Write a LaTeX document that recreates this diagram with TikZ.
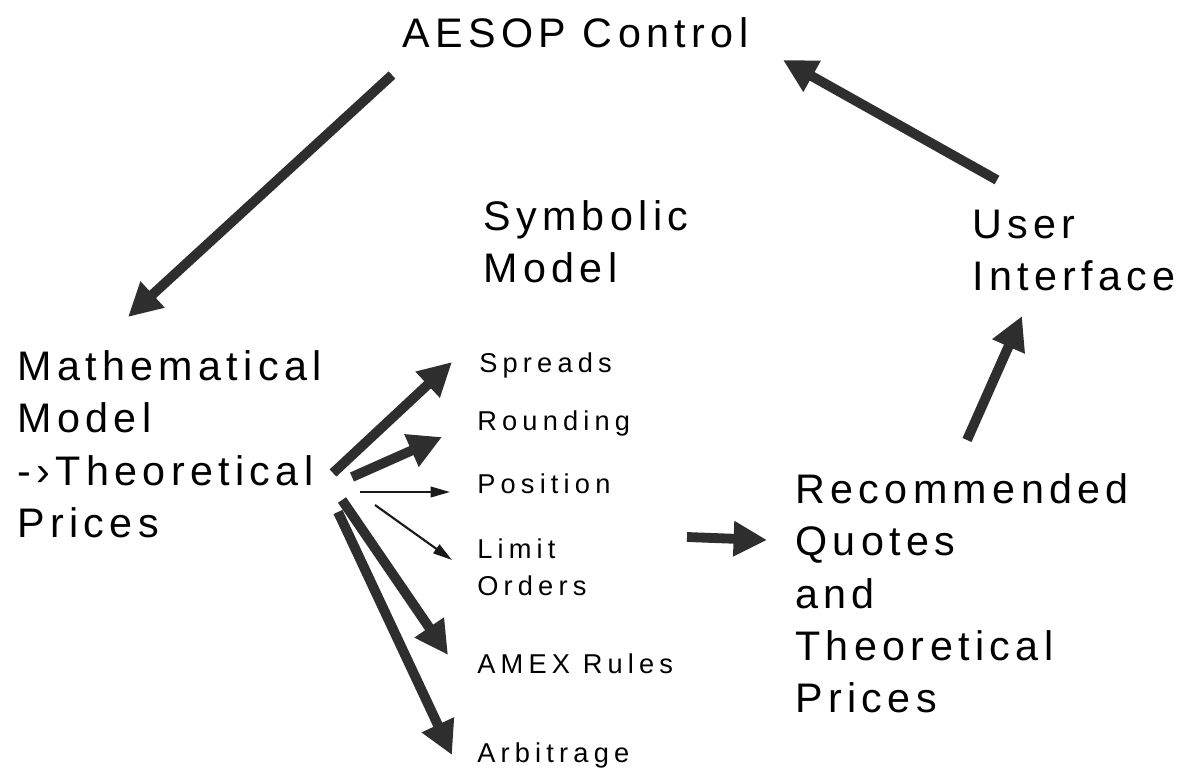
\documentclass[tikz,border=0pt]{standalone}
\usepackage{fontspec}
\setmainfont{Liberation Sans}
\newfontfamily\bigfont[LetterSpace=13]{Liberation Sans}
\newfontfamily\smallfont[LetterSpace=19]{Liberation Sans}
\usetikzlibrary{arrows.meta}
\tikzstyle{bigtext} = [font=\bigfont\fontsize{23.5}{29.6}\selectfont,
    align=left, inner sep=0pt, anchor=base west]
\tikzstyle{smalltext} = [font=\smallfont\fontsize{15.5}{21}\selectfont,
    align=left, inner sep=0pt, anchor=base west]
\tikzstyle{fat} = [draw=black!82, line width=5.6pt,
    -{Triangle[length=19pt,width=19pt]}]
\tikzstyle{thin} = [draw=black!90, line width=1.2pt,
    -{Triangle[length=11pt,width=6pt]}]

\begin{document}
\begin{tikzpicture}[x=0.02cm, y=-0.02cm]
	    \useasboundingbox (0,0) rectangle (1180,775);
	    % Place nodes (base = last line)
	    \node [bigtext] (ctrl) at (402,47) {AESOP Control};
	    \node [bigtext] (math) at (17,537) {Mathematical\\Model\\-›Theoretical\\Prices};
	    \node [bigtext] (sym) at (483,282) {Symbolic\\Model};
	    \node [bigtext] (ui) at (972,290) {User\\Interface};
	    \node [bigtext] (rec) at (795,712) {Recommended\\Quotes\\and\\Theoretical\\Prices};
	    \node [smalltext] (spreads) at (479,372) {Spreads};
	    \node [smalltext] (rounding) at (477,430) {Rounding};
	    \node [smalltext] (position) at (477,493) {Position};
	    \node [smalltext] (limit) at (477,595) {Limit\\Orders};
	    \node [smalltext] (amex) at (477,673) {AMEX Rules};
	    \node [smalltext] (arb) at (477,762) {Arbitrage};
	    % Draw edges
	    \path [fat] ([shift={(-10,28)}]ctrl.base west) -- ([shift={(111,-220)}]math.base west);
	    \path [fat] ([shift={(25,-110)}]ui.base west) -- ([shift={(381,13)}]ctrl.base west);
	    \path [fat] ([shift={(172,-272)}]rec.base west) -- ([shift={(50,26)}]ui.base west);
	    \path [fat] ([shift={(210,-58)}]limit.base west) -- ([shift={(-28,-172)}]rec.base west);
	    \path [fat] ([shift={(316,-64)}]math.base west) -- ([shift={(-27,-10)}]spreads.base west);
	    \path [fat] ([shift={(335,-60)}]math.base west) -- ([shift={(-35,7)}]rounding.base west);
	    \path [thin] ([shift={(343,-45)}]math.base west) -- ([shift={(-27,-1)}]position.base west);
	    \path [thin] ([shift={(358,-32)}]math.base west) -- ([shift={(-25,-35)}]limit.base west);
	    \path [fat] ([shift={(325,-37)}]math.base west) -- ([shift={(-29,-18)}]amex.base west);
	    \path [fat] ([shift={(321,-25)}]math.base west) -- ([shift={(-25,-7)}]arb.base west);
\end{tikzpicture}
\end{document}
